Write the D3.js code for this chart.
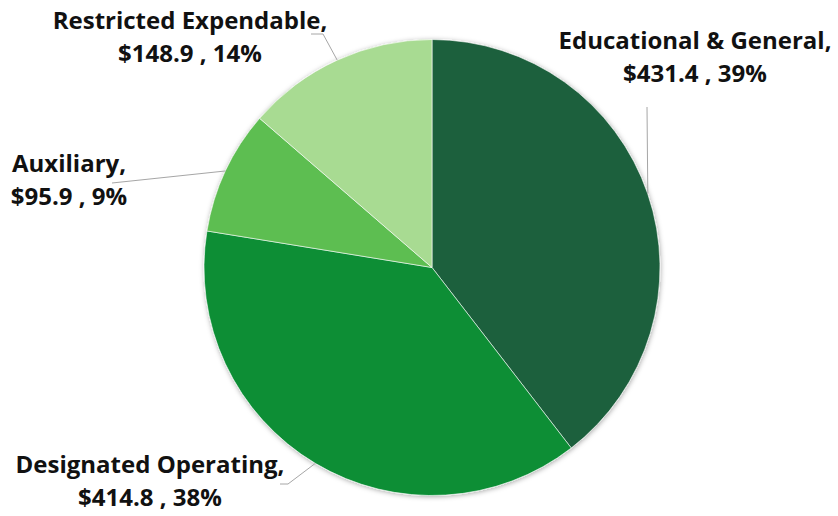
<!DOCTYPE html>
<html>
<head>
<meta charset="utf-8">
<script src="https://cdn.jsdelivr.net/npm/d3@7"></script>
<style>
  html, body { margin: 0; padding: 0; background: #fff; }
  svg { display: block; }
  .lbl { font-family: "Open Sans", Lato, sans-serif; font-weight: 700; fill: #111; }
</style>
</head>
<body>
<svg id="chart" width="838" height="516"></svg>
<script>
// Fund categories, dollar amounts (millions) and the stated shares
const categories = ["Educational & General", "Designated Operating", "Auxiliary", "Restricted Expendable"];
const amounts = [431.4, 414.8, 95.9, 148.9];
const shares = ["39%", "38%", "9%", "14%"];
const colors = ["#1f613e", "#088e34", "#5dbe51", "#a8db92"];

// Label anchors (centre x, first baseline y) and leader-line elbows
const labelPos = [
  { x: 695, y: 49, elbow: [[647, 107]] },
  { x: 150, y: 473, elbow: [[288, 484], [280, 484]] },
  { x: 69, y: 172, elbow: [[112, 183]] },
  { x: 190, y: 29, elbow: [[323, 34], [311, 34]] }
];

const width = 838, height = 516;
const cx = 432, cy = 267.5, radius = 228;

const svg = d3.select("#chart");

const defs = svg.append("defs");
const f = defs.append("filter").attr("id", "pieShadow")
  .attr("x", "-10%").attr("y", "-10%").attr("width", "120%").attr("height", "120%");
f.append("feDropShadow").attr("dx", 0.5).attr("dy", 1).attr("stdDeviation", 2.5)
  .attr("flood-color", "#000").attr("flood-opacity", 0.35);

const data = categories.map((c, i) => ({ name: c, value: amounts[i], share: shares[i], color: colors[i], pos: labelPos[i] }));

const pie = d3.pie().value(d => d.value).sort(null);
const arcs = pie(data);
const arc = d3.arc().innerRadius(0).outerRadius(radius);

const g = svg.append("g").attr("transform", `translate(${cx},${cy})`);

g.append("g").attr("filter", "url(#pieShadow)")
  .selectAll("path").data(arcs).join("path")
  .attr("d", arc)
  .attr("fill", d => d.data.color)
  .attr("stroke", "#ffffff")
  .attr("stroke-width", 0.6);

// Leader lines: from the slice's mid-angle on the rim out to the label
const line = d3.line();
svg.append("g").selectAll("path").data(arcs).join("path")
  .attr("fill", "none")
  .attr("stroke", "#a6a6a6")
  .attr("stroke-width", 1)
  .attr("d", d => {
    const a = (d.startAngle + d.endAngle) / 2;
    const rim = [cx + radius * Math.sin(a), cy - radius * Math.cos(a)];
    return line([rim, ...d.data.pos.elbow]);
  });

const fmt = d3.format(".1f");
const labels = svg.append("g").selectAll("text").data(arcs).join("text")
  .attr("class", "lbl")
  .attr("text-anchor", "middle")
  .attr("font-size", 24)
  .attr("x", d => d.data.pos.x)
  .attr("y", d => d.data.pos.y);
labels.append("tspan").attr("x", d => d.data.pos.x).text(d => d.data.name + ",");
labels.append("tspan").attr("x", d => d.data.pos.x).attr("dy", 33)
  .text(d => "$" + fmt(d.data.value) + " , " + d.data.share);
</script>
</body>
</html>
